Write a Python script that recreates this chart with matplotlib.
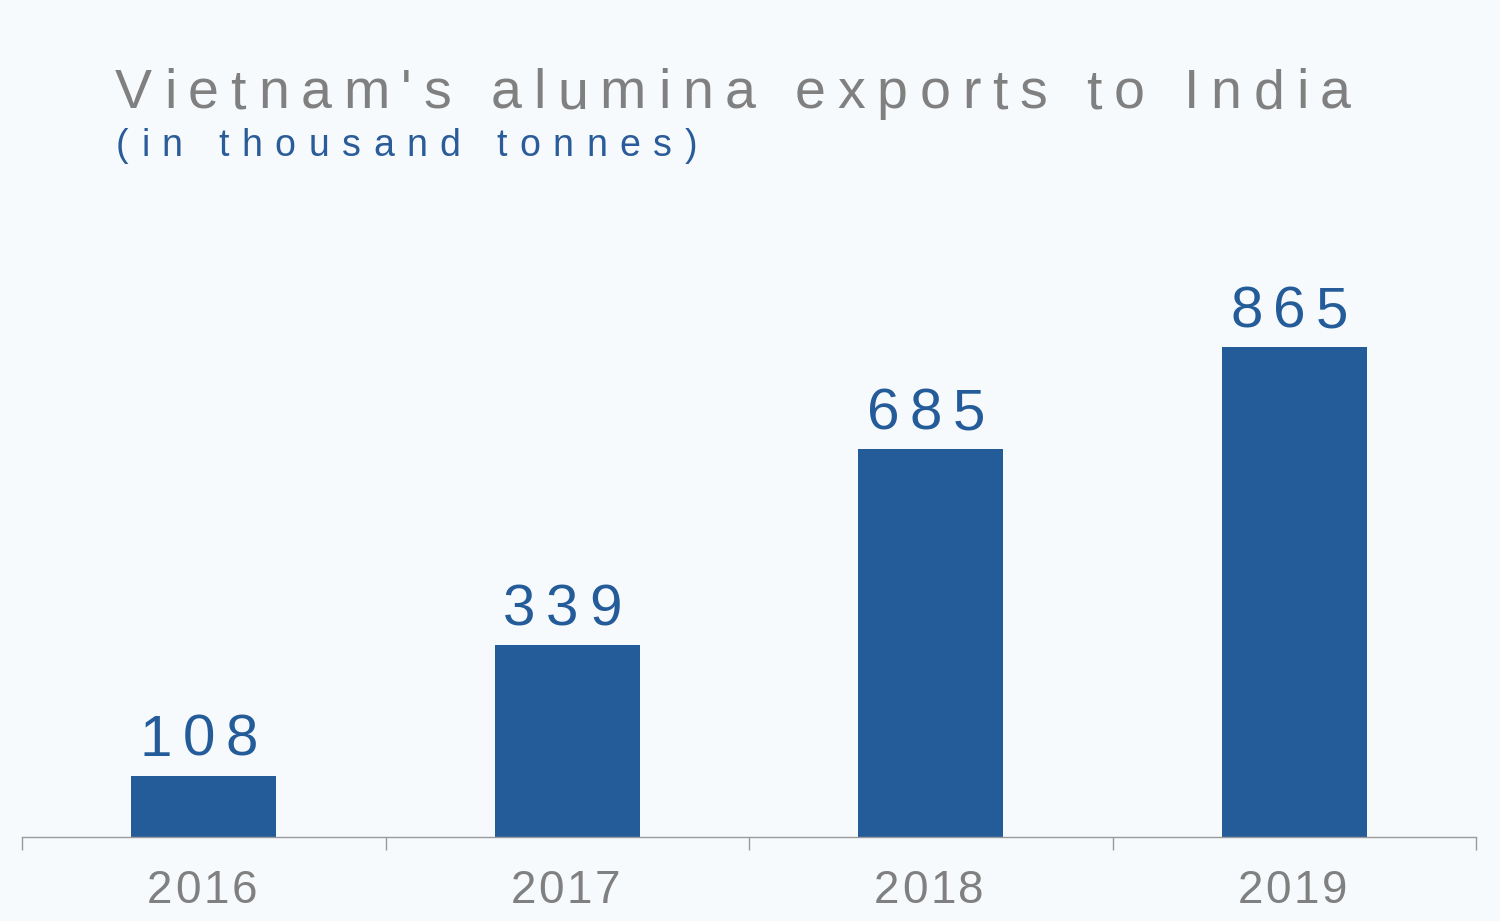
import matplotlib
matplotlib.use('Agg')
import matplotlib.pyplot as plt
from matplotlib.transforms import IdentityTransform

years = ['2016', '2017', '2018', '2019']
exports = [108, 339, 685, 865]
title = "Vietnam's alumina exports to India"
subtitle = "(in thousand tonnes)"

BLUE = '#245b99'
GREY = '#808080'
BG = '#f7fafd'
FONT = 'Liberation Sans'

fig = plt.figure(figsize=(15, 9.21), dpi=100, facecolor=BG)
ax = fig.add_axes([22 / 1500, 84 / 921, 1454 / 1500, 637 / 921])
ax.set_facecolor(BG)

x = range(len(years))
ax.bar(x, exports, width=0.4, color=BLUE, zorder=2)
ax.set_xlim(-0.5, len(years) - 0.5)
ax.set_ylim(0, 1125)

for s in ['top', 'right', 'left']:
    ax.spines[s].set_visible(False)
ax.spines['bottom'].set_color('#9a9a9a')
ax.spines['bottom'].set_linewidth(1)
ax.set_yticks([])
ax.set_xticks([i - 0.5 for i in range(len(years) + 1)])
ax.set_xticklabels([])
ax.tick_params(axis='x', length=9.5, width=1, color='#9a9a9a', direction='out')

renderer = fig.canvas.get_renderer()


def char_w(c, size):
    t1 = fig.text(0, 0, '|' + c + '|', fontsize=size, family=FONT)
    t2 = fig.text(0, 0, '||', fontsize=size, family=FONT)
    w = t1.get_window_extent(renderer).width - t2.get_window_extent(renderer).width
    t1.remove()
    t2.remove()
    return w


def spaced(s, xpx, ypx, size, color, gap=None, width=None, ha='left'):
    ws = [char_w(c, size) for c in s]
    if width is not None:
        gap = (width - sum(ws)) / (len(s) - 1)
    total = sum(ws) + gap * (len(s) - 1)
    pos = xpx - total / 2 if ha == 'center' else xpx
    for c, w in zip(s, ws):
        fig.text(pos, ypx, c, fontsize=size, family=FONT, color=color,
                 ha='left', va='baseline', transform=IdentityTransform())
        pos += w + gap


# title + subtitle
spaced(title, 115, 921 - 108, 40, GREY, width=1236)
spaced(subtitle, 116, 921 - 156, 27, '#2b5c9a', width=581)

# value labels and year labels
for i, (yr, v) in enumerate(zip(years, exports)):
    px, py = ax.transData.transform((i, v))
    spaced(str(v), px - 5, py + 20, 42, BLUE, gap=10.5, ha='center')
    bx, by = ax.transData.transform((i, 0))
    spaced(yr, bx - 2, by - 66, 33, GREY, gap=2.7, ha='center')

fig.savefig('out.png', dpi=100, facecolor=BG)
